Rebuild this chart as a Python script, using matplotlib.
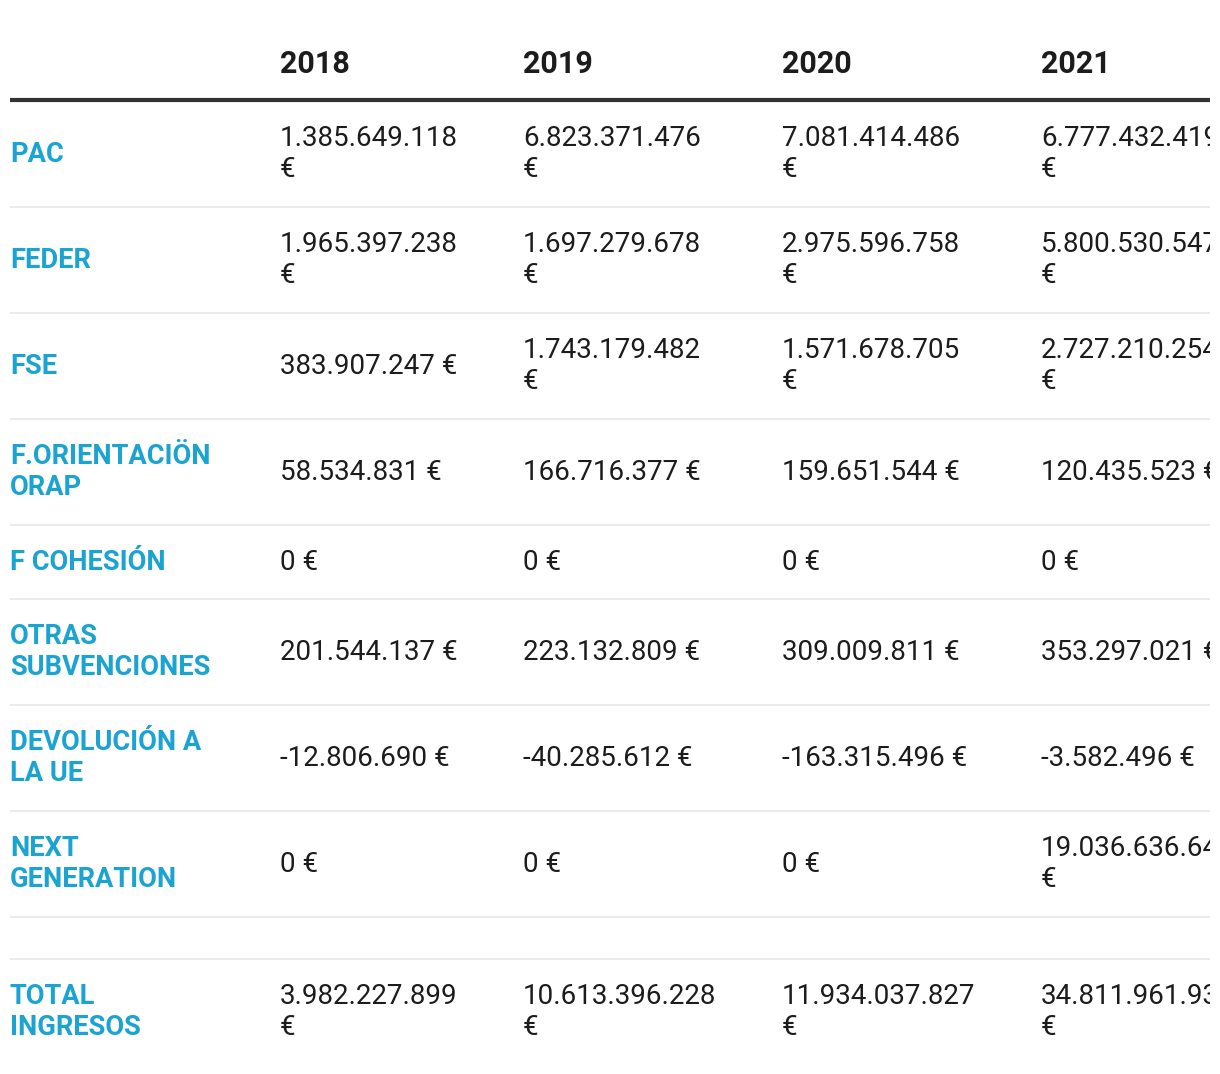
import textwrap
import matplotlib
matplotlib.use("Agg")
import matplotlib.pyplot as plt

plt.rcParams["font.family"] = ["Roboto", "DejaVu Sans"]

years = ["2018", "2019", "2020", "2021"]
row_labels = [
    "PAC",
    "FEDER",
    "FSE",
    "F.ORIENTACIÖN ORAP",
    "F COHESIÓN",
    "OTRAS SUBVENCIONES",
    "DEVOLUCIÓN A LA UE",
    "NEXT GENERATION",
]
values = [
    ["1.385.649.118", "6.823.371.476", "7.081.414.486", "6.777.432.419"],
    ["1.965.397.238", "1.697.279.678", "2.975.596.758", "5.800.530.547"],
    ["383.907.247", "1.743.179.482", "1.571.678.705", "2.727.210.254"],
    ["58.534.831", "166.716.377", "159.651.544", "120.435.523"],
    ["0", "0", "0", "0"],
    ["201.544.137", "223.132.809", "309.009.811", "353.297.021"],
    ["-12.806.690", "-40.285.612", "-163.315.496", "-3.582.496"],
    ["0", "0", "0", "19.036.636.645"],
]
total_label = "TOTAL INGRESOS"
total_values = ["3.982.227.899", "10.613.396.228", "11.934.037.827", "34.811.961.935"]

W, H = 1220, 1074
CLIP_X = 1210
LABEL_COLOR = "#1ba3d1"
TEXT_COLOR = "#1c1c1c"
col_x = [280, 523, 782, 1041]


def cell_text(v):
    # long amounts wrap onto a second line in the narrow cells
    if len(v) > 12:
        return v + "\n€"
    return v + " €"


fig = plt.figure(figsize=(W / 100, H / 100), dpi=100)
ax = fig.add_axes([0, 0, CLIP_X / W, 1])
ax.set_xlim(0, CLIP_X)
ax.set_ylim(H, 0)
ax.axis("off")

# header
for x, yr in zip(col_x, years):
    ax.text(x, 64, yr, fontsize=22, fontweight="bold", color=TEXT_COLOR,
            va="center", ha="left", clip_on=True)
ax.plot([10, CLIP_X], [100, 100], color="#333333", lw=3, solid_capstyle="butt")

label_kw = dict(fontsize=19.6, fontweight="bold", color=LABEL_COLOR,
                va="center", ha="left", linespacing=1.23)
value_kw = dict(fontsize=20, color=TEXT_COLOR, va="center", ha="left",
                linespacing=1.22, clip_on=True)


def draw_row(y0, label, vals):
    lab = textwrap.fill(label, width=13)
    cells = [cell_text(v) for v in vals]
    two = "\n" in lab or any("\n" in c for c in cells)
    h = 106 if two else 74
    yc = y0 + h / 2
    ax.text(10, yc, lab, **label_kw)
    for x, c in zip(col_x, cells):
        ax.text(x, yc, c, **value_kw)
    return y0 + h


y = 101
for lab, vals in zip(row_labels, values):
    y = draw_row(y, lab, vals)
    ax.plot([10, CLIP_X], [y, y], color="#ebebeb", lw=1.5, solid_capstyle="butt")

# empty spacer row before the total
y += 42
ax.plot([10, CLIP_X], [y, y], color="#ebebeb", lw=1.5, solid_capstyle="butt")
draw_row(y, total_label, total_values)

fig.savefig("out.png", dpi=100, facecolor="white")
